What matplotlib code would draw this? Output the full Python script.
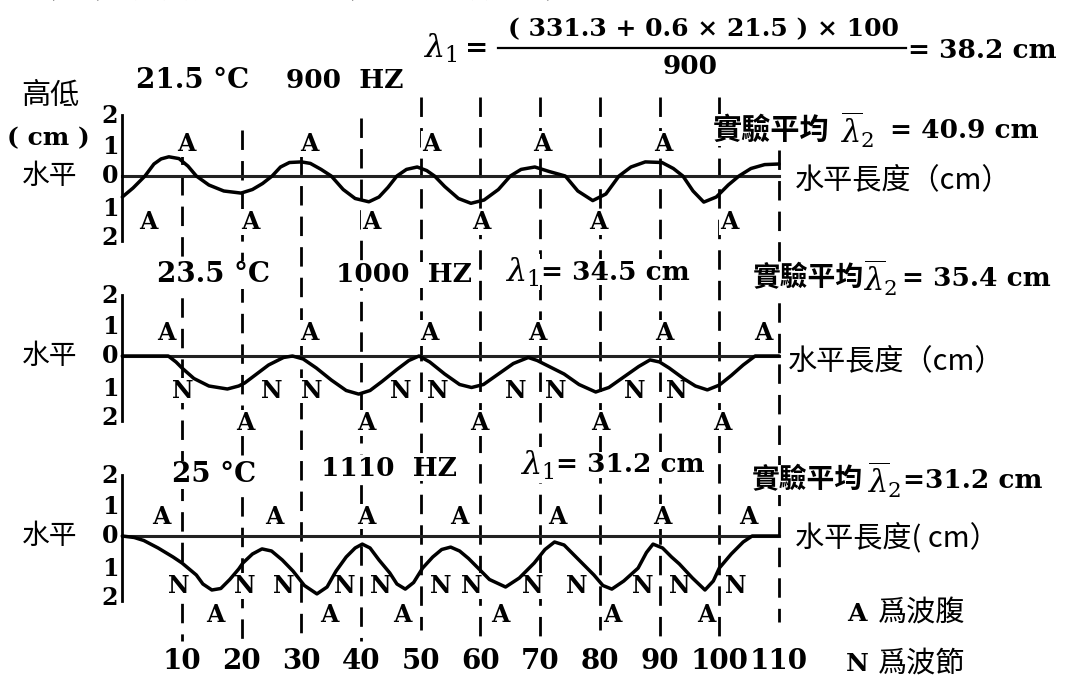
import matplotlib
matplotlib.use('Agg')
import numpy as np
import matplotlib.pyplot as plt

W, H = 1076, 677
SERIF = 'DejaVu Serif'
CJK = ['Noto Sans CJK TC', 'DejaVu Sans']
plt.rcParams['mathtext.fontset'] = 'dejavuserif'

# %% data: position along tube (cm) and displacement (cm)
x_900 = [0, 1.8, 3.8, 5.3, 6.5, 7.8, 9.5, 11.0, 12.4, 14.5, 17.0, 19.9, 21.8,
         23.5, 25.1, 26.5, 28.0, 30.0, 31.5, 33.3, 35.0, 37.0, 39.0, 41.3,
         43.0, 44.5, 46.0, 47.6, 49.4, 51.0, 52.3, 54.0, 56.3, 58.4, 60.6,
         63.0, 65.0, 66.8, 69.1, 71.5, 74.2, 76.3, 78.8, 81.0, 83.2, 85.2,
         87.6, 90.4, 92.3, 93.9, 95.6, 97.4, 99.5, 101.5, 103.3, 105.3,
         107.6, 110.0]
y_900 = [-0.7, -0.4, 0, 0.4, 0.57, 0.64, 0.58, 0.33, 0, -0.3, -0.5, -0.57,
         -0.45, -0.25, 0, 0.3, 0.45, 0.47, 0.42, 0.22, 0, -0.45, -0.75,
         -0.86, -0.7, -0.38, 0, 0.22, 0.3, 0.18, 0, -0.35, -0.75, -0.91,
         -0.8, -0.45, 0, 0.22, 0.3, 0.15, 0, -0.5, -0.82, -0.6, 0, 0.3,
         0.47, 0.45, 0.25, 0, -0.5, -0.87, -0.7, -0.3, 0, 0.25, 0.38, 0.4]

x_1000 = [0, 4, 7.7, 9, 10, 12, 14.5, 17.6, 19.5, 20.5, 22.5, 24.5, 27, 28.5,
          30.3, 32.5, 35, 37.5, 39.6, 41.5, 43.5, 46, 48, 49.7, 51.5, 54,
          56.5, 58.5, 60.5, 63, 65.5, 68, 69.5, 72, 74, 76.5, 79.3, 81.5, 84,
          86.5, 88.4, 90, 91.6, 94, 96, 98, 100, 102, 104, 106, 110]
y_1000 = [0, 0, 0, -0.2, -0.4, -0.75, -1.0, -1.1, -1.0, -0.9, -0.6, -0.3,
          -0.05, 0, -0.1, -0.4, -0.8, -1.15, -1.27, -1.15, -0.85, -0.45,
          -0.15, 0, -0.2, -0.6, -0.95, -1.05, -0.95, -0.6, -0.25, -0.05,
          -0.15, -0.4, -0.6, -0.95, -1.2, -1.05, -0.7, -0.35, -0.13, -0.2,
          -0.4, -0.75, -1.0, -1.13, -0.97, -0.65, -0.3, 0, 0]

x_1110 = [0, 2, 3.6, 6, 8.5, 10, 11.5, 12.4, 13.5, 15, 16.5, 18, 19.5, 20.2,
          21.8, 23.4, 25, 26.8, 28.6, 30.5, 32.6, 34.3, 35.8, 37.5, 39, 40.2,
          41.5, 43, 44.8, 46, 47.4, 48.8, 50.3, 52, 53.5, 55, 56.5, 58, 59.6,
          61.5, 64.2, 66.5, 69, 70.8, 72.4, 74, 76.5, 79, 80.5, 82, 84, 86.4,
          87.8, 88.9, 90.5, 92, 93.3, 95.5, 97.6, 99, 100, 102, 104, 105.5,
          110]
y_1110 = [0, -0.05, -0.15, -0.4, -0.7, -0.9, -1.15, -1.3, -1.6, -1.8, -1.75,
          -1.45, -1.1, -0.9, -0.6, -0.43, -0.5, -0.8, -1.17, -1.65, -1.93,
          -1.7, -1.17, -0.7, -0.4, -0.27, -0.4, -0.8, -1.23, -1.6, -1.77,
          -1.55, -1.07, -0.7, -0.45, -0.37, -0.5, -0.75, -1.07, -1.45, -1.7,
          -1.4, -0.9, -0.45, -0.2, -0.3, -0.8, -1.3, -1.65, -1.77, -1.5,
          -1.07, -0.55, -0.27, -0.4, -0.7, -0.93, -1.4, -1.8, -1.5, -1.07,
          -0.6, -0.2, 0, 0]

# antinode (A) and node (N) marks, cm along the tube
a_top_900 = [10.7, 31.3, 51.7, 70.3, 90.6]
a_bot_900 = [4.3, 21.4, 41.7, 60.1, 79.7, 101.6]
a_top_1000 = [7.3, 31.3, 51.4, 69.6, 90.8, 107.4]
n_1000 = [10.2, 25.1, 31.8, 46.6, 52.9, 65.9, 72.6, 85.9, 92.8]
a_bot_1000 = [20.6, 40.8, 59.8, 80.0, 100.5]
a_top_1110 = [6.6, 25.4, 40.8, 56.4, 72.9, 90.4, 104.8]
n_1110 = [9.5, 20.6, 27.1, 37.3, 43.3, 53.4, 58.6, 68.8, 76.2, 87.2, 93.4,
          102.8]
a_bot_1110 = [15.5, 34.6, 46.9, 63.3, 82.0, 97.8]

ticks = [10, 20, 30, 40, 50, 60, 70, 80, 90, 100, 110]

# %% layout helpers (pixel positions of the scan)
X0, SX = 122.3, 5.97     # px of x=0, px per cm
Y0, SY = 176.0, 30.0     # px of first baseline, px per cm displacement
OFF = [0, -6, -12]       # baseline of each run in axis units

fig = plt.figure(figsize=(W / 100, H / 100), dpi=100)
ax = fig.add_axes([0, 0, 1, 1])
ax.set_xlim(-X0 / SX, (W - X0) / SX)
ax.set_ylim((Y0 - H) / SY, Y0 / SY)
ax.axis('off')

WHITE = dict(fc='white', ec='none', pad=0.6)


def ypx(py):
    return (Y0 - py) / SY


def put(px, py, s, size=20, family=SERIF, ha='left', weight='bold',
        box=True, **kw):
    ax.text(px / W, 1 - py / H, s, transform=fig.transFigure, fontsize=size,
            family=family, ha=ha, va='center', weight=weight, zorder=2,
            bbox=WHITE if box else None, **kw)


def mark(x, y, s, size=17):
    ax.text(x, y, s, fontsize=size, family=SERIF, ha='center', va='center',
            weight='bold', zorder=2, bbox=WHITE)


# %% dashed guide lines
dash_top = [145, 130, 155, 118, 97, 97, 97, 97, 97, 97, 150]
dash_bot = [641, 643, 643, 641, 630, 643, 643, 630, 640, 641, 622]
for t, a, b in zip(ticks, dash_top, dash_bot):
    ax.plot([t, t], [ypx(a), ypx(b)], color='k', lw=2.0, ls=(0, (7, 4)),
            zorder=1)
    ax.text(t, ypx(661), str(t), fontsize=20, family=SERIF, weight='bold',
            ha='center', va='center', zorder=2)

# %% three runs
runs = [(x_900, y_900), (x_1000, y_1000), (x_1110, y_1110)]
for (xs, ys), off in zip(runs, OFF):
    ax.plot([0, 110], [off, off], color='#222222', lw=2.2, zorder=3)
    ax.plot([0, 0], [off + 2.05, off - 2.15], color='k', lw=2.0, zorder=3)
    ax.plot(xs, np.array(ys) + off, color='k', lw=2.5, zorder=3,
            solid_joinstyle='round', solid_capstyle='round')

for x in a_top_900:
    mark(x, OFF[0] + 1.07, 'A')
for x in a_bot_900:
    mark(x, OFF[0] - 1.53, 'A')
for x in a_top_1000:
    mark(x, OFF[1] + 0.77, 'A')
for x in n_1000:
    mark(x, OFF[1] - 1.15, 'N')
for x in a_bot_1000:
    mark(x, OFF[1] - 2.23, 'A')
for x in a_top_1110:
    mark(x, OFF[2] + 0.65, 'A')
for x in n_1110:
    mark(x, OFF[2] - 1.67, 'N')
for x in a_bot_1110:
    mark(x, OFF[2] - 2.63, 'A')

# %% y scale labels
for py0 in [176, 356, 536]:
    for dy, s in zip([-60, -29, 0, 33, 62], ['2', '1', '0', '1', '2']):
        put(110, py0 + dy, s, size=17, ha='center', box=False)
    put(50, py0, '水平', size=20, family=CJK, weight='normal', ha='center',
        box=False)
put(50, 96, '高低', size=21, family=CJK, weight='normal', ha='center',
    box=False)
put(48, 138, '( cm )', size=18, ha='center', box=False)

# %% text: top line (cut off in the scan) and formula
ax.text(20 / W, 1 + 4 / H, '（三）實驗結果：（如下圖所示）', transform=fig.transFigure,
        fontsize=27, family=CJK, va='baseline', zorder=2)
put(423, 48, r'$\lambda_1$', size=23)
put(465, 48, '=', size=20)
put(703, 29, '( 331.3 + 0.6 × 21.5 ) × 100', size=18, ha='center', box=False)
ax.plot([498 / W, 906 / W], [1 - 48 / H, 1 - 48 / H], color='k', lw=1.6,
        transform=fig.transFigure, zorder=3)
put(690, 66, '900', size=19, ha='center')
put(908, 51, '= 38.2 cm', size=19, box=False)

# run 1
put(136, 81, '21.5 °C', size=20)
put(286, 81, '900  HZ', size=19)
put(713, 130, '實驗平均', size=21, family=CJK)
put(840, 130, r'$\overline{\lambda}_2$', size=22)
put(890, 130, '= 40.9 cm', size=19, box=False)
put(795, 180, '水平長度（cm）', size=21, family=CJK, weight='normal', box=False)

# run 2
put(157, 275, '23.5 °C', size=20)
put(336, 275, '1000  HZ', size=19)
put(505, 272, r'$\lambda_1$', size=23)
put(541, 272, '= 34.5 cm', size=19)
put(753, 278, '實驗平均', size=20, family=CJK)
put(863, 278, r'$\overline{\lambda}_2$', size=22)
put(902, 278, '= 35.4 cm', size=19, box=False)
put(788, 361, '水平長度（cm）', size=21, family=CJK, weight='normal', box=False)

# run 3
put(172, 475, '25 °C', size=20)
put(321, 468, '1110  HZ', size=19)
put(520, 465, r'$\lambda_1$', size=23)
put(556, 465, '= 31.2 cm', size=19)
put(752, 480, '實驗平均', size=20, family=CJK)
put(867, 480, r'$\overline{\lambda}_2$', size=22)
put(903, 480, '=31.2 cm', size=19, box=False)
put(795, 538, '水平長度( cm）', size=21, family=CJK, weight='normal', box=False)

# legend
put(857, 614, 'A', size=18, ha='center')
put(878, 614, '爲波腹', size=21, family=CJK, weight='normal', box=False)
put(857, 664, 'N', size=18, ha='center')
put(878, 664, '爲波節', size=21, family=CJK, weight='normal', box=False)

fig.savefig('out.png', dpi=100)
